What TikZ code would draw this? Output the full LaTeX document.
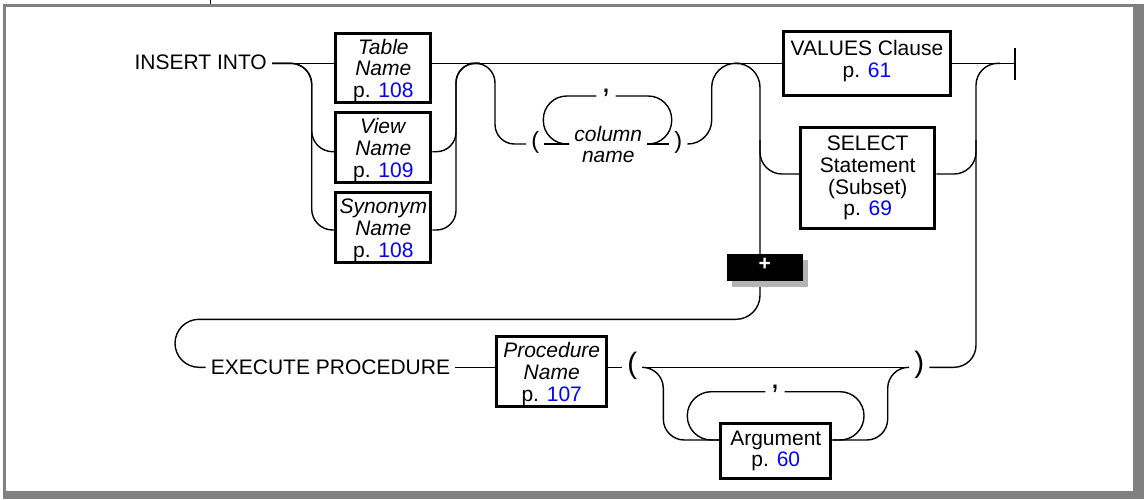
\documentclass[tikz,border=0pt]{standalone}
\usepackage{fontspec}
\setmainfont{Liberation Sans}
\usetikzlibrary{shadows}
\definecolor{pgblue}{RGB}{0,0,255}
\definecolor{framegray}{RGB}{128,128,128}
\definecolor{shadowgray}{RGB}{179,179,179}
\newcommand\pg[1]{\textcolor{pgblue}{#1}}
\newcommand\fsz{\fontsize{21pt}{21.7pt}\selectfont}
\newcommand\tallstrut{\rule{0pt}{20pt}}
\newcommand\deepstrut{\rule[-9pt]{0pt}{9pt}}
\begin{document}
\begin{tikzpicture}[x=1pt,y=-1pt,
  rail/.style={line width=1.4pt},
  rbox/.style={draw, line width=3pt, fill=white, inner sep=0pt, align=center, font=\fsz},
  txt/.style={inner ysep=0pt, inner xsep=5pt, font=\fsz},
  smallp/.style={inner ysep=0pt, inner xsep=5pt, font=\fontsize{23.5pt}{23.5pt}\selectfont},
  bigp/.style={inner ysep=0pt, inner xsep=5pt, font=\fontsize{29.5pt}{29.5pt}\selectfont},
  commanode/.style={inner ysep=0pt, inner xsep=5pt, font=\fontsize{32pt}{32pt}\selectfont},
  plusbox/.style={fill=black, inner sep=0pt, text=white, font=\fontsize{21pt}{21pt}\selectfont\bfseries,
     drop shadow={shadow xshift=5pt, shadow yshift=-6pt, fill=shadowgray, opacity=1}}
]
\useasboundingbox (0,0) rectangle (1144,499);
% frame
\fill[framegray] (1133.3,4) rectangle (1144,499);
\fill[framegray] (3,491) rectangle (1144,499);
\fill[framegray] (3,4) rectangle (1144,6.7);
\fill[framegray] (3,4) rectangle (6,499);
\draw[line width=1pt] (210,0) -- (210,4);

% rail levels
\coordinate (yM) at (0,63.3);
\coordinate (yV) at (0,151.7);
\coordinate (yS) at (0,230);
\coordinate (yC) at (0,144);
\coordinate (yCt) at (0,96);
\coordinate (ySel) at (0,174);
\coordinate (yE) at (0,367.3);
\coordinate (yAt) at (0,391.7);
\coordinate (yA) at (0,440);
\coordinate (term) at (1015,63.3);

% boxes
\node[rbox, minimum width=95pt, minimum height=69.6pt] (tbl) at (383.3,68) {\tallstrut\textit{Table}\\\textit{Name}\\p. \pg{108}};
\node[rbox, minimum width=95pt, minimum height=69.6pt] (vw) at (383.3,147.5) {\tallstrut\textit{View}\\\textit{Name}\\p. \pg{109}};
\node[rbox, minimum width=95pt, minimum height=69.6pt] (syn) at (383.3,227.7) {\tallstrut\textit{Synonym}\\\textit{Name}\\p. \pg{108}};
\node[rbox, minimum width=167.6pt, minimum height=63.7pt] (val) at (867,63.3) {VALUES Clause\\p. \pg{61}\deepstrut};
\node[rbox, minimum width=134.3pt, minimum height=101pt] (sel) at (867.7,178) {SELECT\\Statement\\(Subset)\\p. \pg{69}};
\node[rbox, minimum width=110.3pt, minimum height=70.3pt] (proc) at (551.7,371.7) {\tallstrut\textit{Procedure}\\\textit{Name}\\p. \pg{107}};
\node[rbox, minimum width=110pt, minimum height=55.3pt] (arg) at (775.8,450.9) {Argument\\p. \pg{60}};

% texts
\node[txt, anchor=base east] (ins) at (272,69) {INSERT INTO};
\node[txt, anchor=base west] (exe) at (205.7,374) {EXECUTE PROCEDURE};
\node[smallp] (lp1) at (535.3,142.3) {(};
\node[smallp] (rp1) at (678.3,142.3) {)};
\node[bigp] (lp2) at (632.2,365.5) {(};
\node[bigp] (rp2) at (919.2,364.5) {)};
\node[commanode] (c1) at (606,93.2) {,};
\node[commanode] (c2) at (775,389.2) {,};
\node[txt, align=center, font=\fsz\itshape] (cn) at (608.3,144.5) {column\\name};

% rails: first row
\draw[rail] (ins.east |- yM) -- (tbl.west |- yM);
\draw[rail, rounded corners=21pt] (ins.east |- yM) -- (311.7,63.3) -- (311.7,151.7) -- (vw.west |- yV);
\draw[rail, rounded corners=21pt] (ins.east |- yM) -- (311.7,63.3) -- (311.7,230) -- (syn.west |- yS);
\draw[rail] (tbl.east |- yM) -- (val.west |- yM);
\draw[rail, rounded corners=19.5pt] (vw.east |- yV) -- (456,151.7) -- (456,63.3) -- (480,63.3);
\draw[rail, rounded corners=19.5pt] (syn.east |- yS) -- (456,230) -- (456,63.3) -- (480,63.3);
\draw[rail, rounded corners=19.5pt] (470,63.3) -- (495,63.3) -- (495,144) -- (lp1.west |- yC);
\draw[rail] (lp1.east |- yC) -- (cn.west |- yC);
\draw[rail] (cn.east |- yC) -- (rp1.west |- yC);
\draw[rail, rounded corners=23.5pt] (c1.west |- yCt) -- (543.3,96) -- (543.3,144) -- (cn.west |- yC);
\draw[rail, rounded corners=23.5pt] (c1.east |- yCt) -- (671.7,96) -- (671.7,144) -- (cn.east |- yC);
\draw[rail, rounded corners=24pt] (rp1.east |- yC) -- (711.7,144) -- (711.7,63.3) -- (740,63.3);
\draw[rail, rounded corners=24pt] (735,63.3) -- (760,63.3) -- (760,319.3) -- (175,319.3) -- (175,367.3) -- (exe.west |- yE);
\draw[rail, rounded corners=22pt] (760,140) -- (760,174) -- (sel.west |- ySel);
\draw[rail] (val.east |- yM) -- (term);
\draw[line width=2pt] ([yshift=15.5pt]term) -- ([yshift=-16.5pt]term);
\draw[rail, rounded corners=22pt] (sel.east |- ySel) -- (976,174) -- (976,140);
\draw[rail, rounded corners=22pt] (rp2.east |- yE) -- (976,367.3) -- (976,63.3) -- (1000,63.3);

% rails: second row
\draw[rail] (exe.east |- yE) -- (proc.west |- yE);
\draw[rail] (proc.east |- yE) -- (lp2.west |- yE);
\draw[rail] (lp2.east |- yE) -- (rp2.west |- yE);
\draw[rail, rounded corners=21pt] (lp2.east |- yE) -- (663.3,367.3) -- (663.3,440) -- (arg.west |- yA);
\draw[rail, rounded corners=24pt] (c2.west |- yAt) -- (687.3,391.7) -- (687.3,440) -- (arg.west |- yA);
\draw[rail, rounded corners=24pt] (c2.east |- yAt) -- (864,391.7) -- (864,440) -- (arg.east |- yA);
\draw[rail, rounded corners=21pt] (arg.east |- yA) -- (887.7,440) -- (887.7,367.3) -- (rp2.west |- yE);

% plus marker
\node[plusbox, minimum width=76pt, minimum height=26.7pt] (plus) at (764.7,267.3) {\raisebox{3pt}[\height][\depth]{+}};
\end{tikzpicture}
\end{document}
